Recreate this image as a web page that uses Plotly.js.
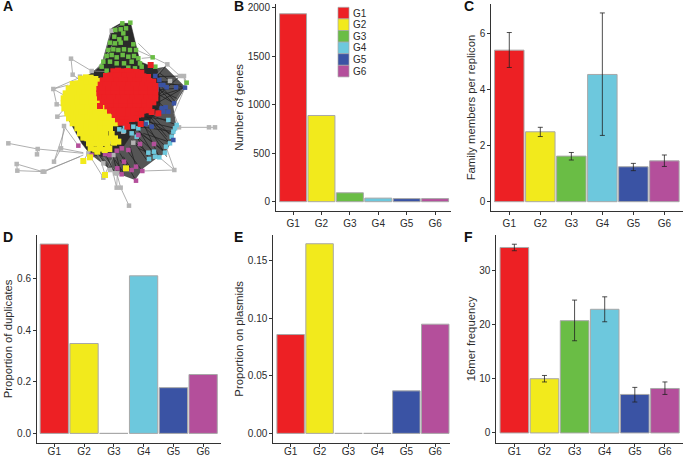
<!DOCTYPE html>
<html><head><meta charset="utf-8"><script src="https://cdn.plot.ly/plotly-3.0.1.min.js"></script>
<style>html,body{margin:0;padding:0;background:#fff}</style></head><body><div id="c" style="width:683px;height:455px"></div>
<script>
const groups=['G1','G2','G3','G4','G5','G6'];
const colors=['#ED2024','#F2EA1C','#6ABD45','#6DC8DD','#3A53A4','#B44F9B'];
const genes=[1940,890,92,37,32,32];
const family=[5.42,2.5,1.63,4.55,1.25,1.46];
const familyUp=[0.63,0.16,0.13,2.2,0.12,0.21];
const familyDown=[0.62,0.17,0.14,2.18,0.14,0.2];
const duplicates=[0.733,0.348,0,0.61,0.177,0.228];
const plasmids=[0.086,0.165,0,0,0.037,0.095];
const freq=[34.2,10,20.7,22.8,7.1,8.2];
const freqUp=[0.6,0.6,3.8,2.3,1.3,1.2];
const freqDown=[0.6,0.6,3.7,2.3,1.4,1.1];

// Panel A node positions (image px x 3)
const nodesRed=[[340,214],[354,212],[368,214],[382,213],[396,215],[410,216],[424,218],
[318,228],[332,226],[346,227],[360,226],[374,227],[388,226],[402,228],[416,228],[430,229],[444,231],
[308,241],[322,240],[336,240],[350,241],[364,240],[378,241],[392,240],[406,241],[420,241],[434,242],[448,243],[460,245],
[302,254],[316,254],[330,253],[344,254],[358,254],[372,254],[386,254],[400,254],[414,254],[428,255],[442,255],[456,256],[466,258],
[298,267],[312,267],[326,267],[340,267],[354,267],[368,267],[382,267],[396,267],[410,267],[424,267],[438,267],[452,267],[466,268],
[298,280],[312,280],[326,280],[340,280],[354,280],[368,280],[382,280],[396,280],[410,280],[424,280],[438,280],[452,280],[466,281],
[300,293],[314,293],[328,293],[342,293],[356,293],[370,293],[384,293],[398,293],[412,293],[426,293],[440,293],[454,293],[466,295],
[308,306],[322,306],[336,306],[350,306],[364,306],[378,306],[392,306],[406,306],[420,306],[434,306],[448,306],[460,307],
[322,319],[336,319],[350,319],[364,319],[378,319],[392,319],[406,319],[420,319],[434,319],[448,318],
[330,332],[344,332],[358,332],[372,332],[386,332],[400,332],[414,332],[428,332],[440,331],
[344,345],[358,345],[372,345],[386,345],[400,345],[414,344],[424,343],
[354,358],[368,358],[382,358],[396,357],[408,356],[362,368],[378,368],[452,195],[422,372],[300,318],[455,336],[475,340],[382,380]];
const nodesYellow=[[243,236],[258,232],[272,233],[286,237],[296,243],
[218,252],[232,250],[246,250],[260,248],[274,249],[288,250],
[206,265],[220,265],[234,264],[248,264],[262,263],[276,264],[290,265],
[197,280],[211,279],[225,279],[239,279],[253,278],[267,279],[281,279],[291,281],
[191,295],[205,294],[219,294],[233,294],[247,293],[261,294],[275,294],[287,296],[294,303],
[191,310],[205,309],[219,309],[233,309],[247,308],[261,309],[275,309],[289,310],[302,316],[311,322],
[193,325],[207,324],[221,324],[235,324],[249,323],[263,324],[277,324],[291,325],[305,328],[318,334],
[202,340],[216,339],[230,339],[244,338],[258,339],[272,339],[286,339],[300,340],[314,341],[325,345],[336,352],
[207,355],[221,354],[235,354],[249,353],[263,354],[277,354],[291,354],[305,355],[319,356],[333,358],[346,360],
[218,370],[232,369],[246,369],[260,368],[274,369],[288,369],[302,370],[316,370],[330,370],[346,370],
[232,385],[246,384],[260,384],[274,384],[288,384],[302,385],[316,385],[330,384],[240,400],[255,399],[270,400],[285,399],[300,400],[316,400],[335,402],
[250,413],[262,415],[276,415],[290,414],[304,415],[320,416],[335,415],[345,415],[342,428],[267,430],[281,430],[295,430],[309,430],[323,432],[355,425],[272,445],[286,448],[300,446],[314,450],[328,447],[292,455],
[315,525],[250,483],[270,472],[378,505]];
const nodesGreen=[[367,70],[391,68],[378,85],[362,88],[346,90],[370,100],[343,110],[358,118],[378,115],[330,128],[345,130],[362,128],[400,133],[325,150],[340,148],[355,150],[372,148],[390,150],[408,150],[320,168],[335,165],[350,172],[368,165],[385,170],[402,168],[415,175],[310,185],[330,185],[350,190],[372,190],[395,185],[420,190],[305,200],[320,212],[385,203],[405,205],[425,200],[458,172],[466,200],[560,248]];
const nodesCyan=[[358,388],[375,380],[400,380],[415,385],[395,400],[410,410],[505,360],[530,375],[525,385],[515,410],[510,430],[498,440],[495,458],[478,472],[465,470],[447,477],[462,455],[445,458],[520,395],[440,368],[372,392]];
const nodesBlue=[[466,228],[478,240],[470,268],[478,255],[490,255],[500,262],[555,263],[522,310],[485,325],[497,322],[505,335],[490,335],[437,372],[455,380],[520,420],[528,262]];
const nodesMagenta=[[235,437],[315,462],[328,465],[350,452],[365,445],[385,450],[415,405],[420,432],[462,432],[408,500],[427,513],[408,542],[365,523],[352,505],[372,485],[395,510],[310,420],[275,465]];
const nodesGrey=[[213,176],[218,224],[275,213],[160,267],[170,313],[172,350],[192,378],[25,430],[113,447],[111,463],[50,492],[52,512],[128,515],[133,515],[162,485],[183,445],[265,460],[310,533],[350,563],[362,563],[387,617],[352,520],[523,510],[537,382],[627,382],[645,382],[502,193],[540,228],[552,228],[510,243],[240,230],[335,92],[400,428],[370,395],[290,420],[330,425],[280,405],[258,395],[340,465],[310,490],[330,510],[345,520]];

// Solid dark mass of edges behind the nodes
const hullX=[335,362,392,420,470,480,480,440,400,370,340,300,270,245,215,195,190,208,270,305,335];
const hullY=[85,70,70,185,205,240,320,375,395,440,465,470,462,430,375,340,290,258,222,195,85];
// Lighter fan of edges around the right and lower side
const fanX=[470,495,550,555,520,530,512,495,470,430,405,365,320,270,300,360,400,440,480,470];
const fanY=[205,200,255,265,320,385,430,460,475,505,540,525,500,462,450,420,385,360,320,205];
// Dark edges [x1,y1,x2,y2]
const edgesDark=[[470,240,555,263],[470,250,545,255],[470,260,520,310],[470,230,502,193],[465,270,555,263],[470,280,522,310],[465,295,540,228],[470,250,510,243],[460,230,552,228],[470,300,505,335],[460,320,490,335],[470,290,555,263],[475,250,530,310],[470,310,540,270],[480,220,520,250],[480,270,530,295],
[440,340,530,375],[430,350,505,360],[420,360,525,385],[450,340,515,410],[440,350,510,430],[420,370,498,440],[400,380,495,458],[430,370,478,472],[410,380,465,470],[400,390,447,477],[420,380,520,395],[440,360,510,400],[450,350,500,410],[400,400,462,455],[420,400,490,450],[395,420,445,458],[430,400,505,425],[445,380,500,470],
[360,460,408,542],[380,450,427,513],[350,470,365,523],[390,440,408,500],[340,470,352,520],[320,470,345,520],[300,470,330,510],[370,470,395,510],[360,480,378,505],[345,480,372,520],[405,430,440,480],[415,445,460,465]];
// Thin grey edges [x1,y1,x2,y2]
const edgesGrey=[[25,430,113,447],[113,447,250,460],[113,447,111,463],[50,492,128,515],[52,512,133,515],[50,492,52,512],[133,515,250,465],[128,515,240,470],[162,485,183,445],[183,445,192,378],[183,445,250,458],[162,485,195,385],[192,378,235,437],[213,176,275,213],[213,176,218,224],[218,224,240,240],[160,267,205,255],[160,267,200,290],[160,267,170,313],[170,313,205,320],[172,350,215,345],[172,350,190,330],[160,267,240,232],
[275,213,320,215],[305,195,340,130],[295,205,330,150],[285,212,320,170],[415,130,458,172],[410,150,458,172],[458,172,502,193],[425,175,458,172],[502,193,466,228],[502,193,540,228],[552,228,560,248],[552,228,555,263],[560,248,522,310],[555,263,522,340],[522,340,537,382],[537,382,627,382],[627,382,645,382],[498,440,523,510],[523,510,427,513],[523,510,478,472],
[250,483,270,450],[265,460,310,533],[310,533,340,470],[352,520,350,563],[350,563,362,563],[362,563,387,617],[362,563,345,500],[350,563,330,480],[352,520,310,470],[330,510,290,460],[310,490,280,450],[315,525,300,470],[335,92,367,70],[335,92,305,195]];

function segs(list){const x=[],y=[];list.forEach(e=>{x.push(e[0],e[2],null);y.push(e[1],e[3],null);});return {x,y};}
function nodeTrace(list,color,size){return {type:'scatter',mode:'markers',x:list.map(p=>p[0]),y:list.map(p=>p[1]),xaxis:'x6',yaxis:'y6',hoverinfo:'skip',showlegend:false,marker:{symbol:'square',size:size,color:color,line:{width:0}}};}
function barTrace(vals,ax,up,down){const t={type:'bar',x:groups,y:vals,xaxis:'x'+ax,yaxis:'y'+ax,width:0.95,showlegend:false,marker:{color:colors,line:{color:'#A8A8A8',width:1}}};
 if(up)t.error_y={type:'data',array:up,arrayminus:down,visible:true,color:'#222',thickness:0.8,width:2.5};return t;}

const W=683,H=455;
const TXT='#2b2b2b',FONT='"Liberation Sans", Arial, sans-serif';
function axes(n,L,R,T,B,xr,yr,title,tick,standoff,tickShift){
 const sfx=n===1?'':n;
 return {
  ['xaxis'+sfx]:{anchor:'y'+sfx,domain:[L/W,R/W],range:xr,type:'category',categoryorder:'array',categoryarray:groups,showline:true,linecolor:'#333',linewidth:1,ticks:'outside',ticklen:3,tickcolor:'#333',ticklabelstandoff:tickShift,tickfont:{size:10,color:TXT,family:FONT},showgrid:false,zeroline:false,fixedrange:true},
  ['yaxis'+sfx]:{anchor:'x'+sfx,domain:[1-B/H,1-T/H],range:yr,tickvals:tick,ticktext:tick.map(String),showline:true,linecolor:'#333',linewidth:1,ticks:'outside',ticklen:3,tickcolor:'#333',tickfont:{size:10,color:TXT,family:FONT},showgrid:false,zeroline:false,fixedrange:true,title:{text:title,font:{size:11.3,color:TXT,family:FONT},standoff:standoff}}
 };
}
const layout=Object.assign({width:W,height:H,margin:{l:0,r:0,t:0,b:0},paper_bgcolor:'#fff',plot_bgcolor:'rgba(0,0,0,0)',showlegend:false,bargap:0.05,
 xaxis6:{domain:[0,225/W],range:[0,675],visible:false,anchor:'y6',fixedrange:true},
 yaxis6:{domain:[1-225/H,1],range:[675,0],visible:false,anchor:'x6',fixedrange:true}},
 axes(1,276,451,4,211,[-0.6,5.56],[-96,2041],'Number of genes',[0,500,1000,1500,2000],1,0),
 axes(2,491.3,683,4,211,[-0.58,5.6],[-0.333,7.07],'Family members per replicon',[0,2,4,6],1,0),
 axes(3,37,221,235,442.7,[-0.58,5.6],[-0.036,0.768],'Proportion of duplicates',['0.0','0.2','0.4','0.6'],2,-4),
 axes(4,273.3,450,235,442.7,[-0.6,5.51],[-0.0081,0.1726],'Proportion on plasmids',['0.00','0.05','0.10','0.15'],1,-4),
 axes(5,496.3,683,235,442.7,[-0.6,5.6],[-1.8,36.5],'16mer frequency',[0,10,20,30],1,-4));

const letters=[['A',1,6],['B',232,6],['C',462,6],['D',1,237],['E',232,237],['F',462,237]];
const paper=(x,y)=>({x:x/W,y:1-y/H});
layout.annotations=letters.map(l=>Object.assign(paper(l[1],l[2]),{text:'<b>'+l[0]+'</b>',xref:'paper',yref:'paper',xanchor:'left',yanchor:'middle',showarrow:false,font:{size:14,color:'#111',family:FONT}}));
layout.shapes=[];
groups.forEach((g,i)=>{
 const top=7.3+i*11.6;
 layout.shapes.push({type:'rect',xref:'paper',yref:'paper',x0:338/W,x1:349/W,y0:1-top/H,y1:1-(top+11.6)/H,fillcolor:colors[i],line:{color:'#A8A8A8',width:0.7}});
 layout.annotations.push(Object.assign(paper(351,top+5.8),{text:g,xref:'paper',yref:'paper',xanchor:'left',yanchor:'middle',showarrow:false,font:{size:10,color:TXT,family:FONT}}));
});

const dark=segs(edgesDark),grey=segs(edgesGrey);
const data=[
 {type:'scatter',mode:'lines',x:fanX,y:fanY,fill:'toself',fillcolor:'rgba(55,55,55,0.85)',line:{color:'rgba(0,0,0,0)',width:0},xaxis:'x6',yaxis:'y6',hoverinfo:'skip',showlegend:false},
 {type:'scatter',mode:'lines',x:hullX,y:hullY,fill:'toself',fillcolor:'#2a2a2a',line:{color:'#2a2a2a',width:0.5},xaxis:'x6',yaxis:'y6',hoverinfo:'skip',showlegend:false},
 {type:'scatter',mode:'lines',x:grey.x,y:grey.y,line:{color:'#8c8c8c',width:0.7},xaxis:'x6',yaxis:'y6',hoverinfo:'skip',showlegend:false},
 {type:'scatter',mode:'lines',x:dark.x,y:dark.y,line:{color:'#222',width:0.8},xaxis:'x6',yaxis:'y6',hoverinfo:'skip',showlegend:false},
 nodeTrace(nodesGrey,'#B5B5B5',4.5),nodeTrace(nodesGreen,colors[2],4.5),nodeTrace(nodesCyan,colors[3],4.5),nodeTrace(nodesBlue,colors[4],4.5),nodeTrace(nodesMagenta,colors[5],4.5),nodeTrace(nodesYellow,colors[1],6),nodeTrace(nodesRed,colors[0],6),
 barTrace(genes,''),barTrace(family,2,familyUp,familyDown),barTrace(duplicates,3),barTrace(plasmids,4),barTrace(freq,5,freqUp,freqDown)
];
Plotly.newPlot('c',data,layout,{staticPlot:true,displayModeBar:false});
</script></body></html>
